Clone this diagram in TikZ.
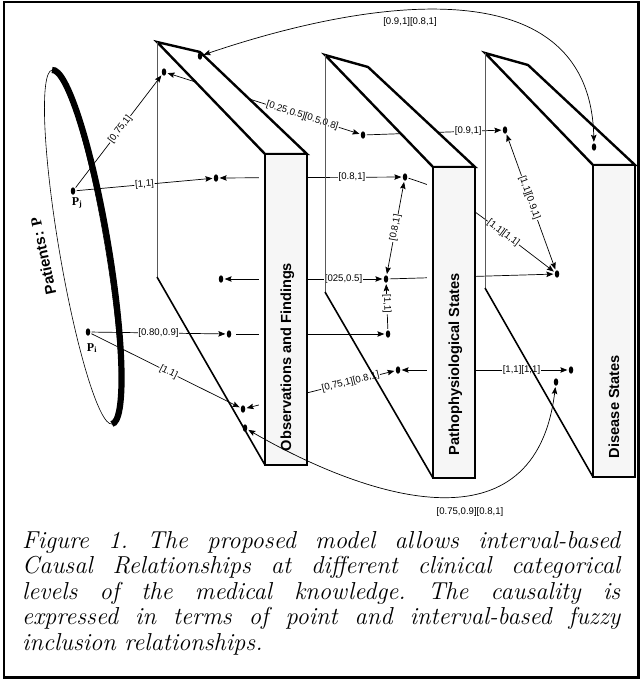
\documentclass[tikz,border=0pt]{standalone}
\usepackage{fontspec}
\newfontfamily\afont{Liberation Sans}
\newfontfamily\sfontr{Liberation Serif}
\usetikzlibrary{arrows.meta,shapes.geometric}
\pgfdeclarelayer{back}
\pgfdeclarelayer{faces}
\pgfsetlayers{back,faces,main}
\definecolor{boxgray}{RGB}{246,246,246}
\begin{document}
\begin{tikzpicture}[x=1pt,y=-1pt,
  >={Stealth[length=7pt,width=5.5pt,inset=1.2pt]},
  conn/.style={line width=0.7pt, shorten >=1.2pt, shorten <=1.2pt},
  lab/.style={font=\afont\fontsize{9.6}{10.5}\selectfont, fill=white, inner sep=0.8pt},
  dot/.style={ellipse, fill=black, inner sep=0pt, minimum width=4.5pt, minimum height=7.5pt},
  thickedge/.style={line width=2.4pt, line join=miter},
  backline/.style={line width=0.9pt, draw=black!65},
  backdiag/.style={line width=1.6pt},
  boxtext/.style={font=\afont\bfseries\fontsize{14.6}{16}\selectfont, rotate=90, anchor=base, inner sep=0pt},
  capline/.style={font=\itshape\fontsize{24.5}{25.5}\selectfont\frenchspacing, inner sep=0pt, anchor=base west}
  ]
\useasboundingbox (0,0) rectangle (642,680);
\draw[line width=2.2pt] (4,2) rectangle (638.5,677.5);

% patients ellipse
\begin{scope}[shift={(82,247)}, rotate=9.6]
  \draw[line width=0.6pt] (0,0) ellipse [x radius=23, y radius=179.5];
  \draw[line width=6.2pt] (0,-179.5) arc[start angle=-90, end angle=90, x radius=26.2, y radius=179.5];
\end{scope}
\node[rotate=102, inner sep=0pt] (pat) at (43,256) {\afont\bfseries\fontsize{15}{16}\selectfont Patients: {\sfontr P}};

% dots
\node[dot] (pj) at (73,191) {};
\node[dot] (pi) at (88,332) {};
\node[inner sep=0pt] (pjl) at (77,203) {\sfontr\bfseries\fontsize{12}{13}\selectfont P\textsubscript{j}};
\node[inner sep=0pt] (pil) at (92,348) {\sfontr\bfseries\fontsize{12}{13}\selectfont P\textsubscript{i}};
\node[dot] (d1) at (200,56) {};
\node[dot] (d2) at (164,72) {};
\node[dot] (d3) at (216,178) {};
\node[dot] (d4) at (221,279) {};
\node[dot] (d5) at (229,334) {};
\node[dot] (d6) at (243,409) {};
\node[dot] (d7) at (245,428) {};
\node[dot] (e1) at (363,135) {};
\node[dot] (e2) at (405,177) {};
\node[dot] (e3) at (386,279) {};
\node[dot] (e4) at (388,334) {};
\node[dot] (e5) at (398,370) {};
\node[dot] (f1) at (505,130) {};
\node[dot] (f2) at (594,147) {};
\node[dot] (g2) at (557,274) {};
\node[dot] (g3) at (571,370) {};
\node[dot] (g4) at (556,382) {};

% connectors hidden behind the slabs
\begin{pgfonlayer}{back}
\draw[conn,<->] (d2) -- node[lab,sloped,pos=0.7]{[0.25,0.5][0.5,0.8]} (e1);
\draw[conn,->] (e1) -- node[lab,pos=0.75]{[0.9,1]} (f1);
\draw[conn,<->] (d3) -- node[lab,pos=0.725]{[0.8,1]} (e2);
\draw[conn,<->] (d4) -- node[lab,pos=0.75]{[025,0.5]} (e3);
\draw[conn,->,shorten <=5pt] (d5) -- (e4);
\draw[conn,<->] (d6) -- node[lab,sloped,pos=0.7]{[0,75,1][0.8,1]} (e5);
\draw[conn,->] (e2) .. controls (450,192) .. node[lab,sloped,pos=0.8]{[1,1][1,1]} (g2);
\draw[conn,->] (e3) -- (g2);
\draw[conn,<->] (e5) -- node[lab,pos=0.72]{[1,1][1,1]} (g3);
\end{pgfonlayer}

% slabs
\begin{pgfonlayer}{faces}
\fill[white] (259,154) rectangle (265,465);
\fill[white] (427,167) rectangle (433,478);
\filldraw[fill=white, thickedge] (157,42) -- (200,52) -- (307,154) -- (265,154) -- cycle;
\filldraw[fill=boxgray, thickedge] (265,154) rectangle (307,465);
\filldraw[fill=white, thickedge] (325,55) -- (368,67) -- (475,167) -- (433,167) -- cycle;
\filldraw[fill=boxgray, thickedge] (433,167) rectangle (475,478);
\filldraw[fill=white, thickedge] (485,53) -- (528,65) -- (635,165) -- (593,165) -- cycle;
\filldraw[fill=boxgray, thickedge] (593,165) rectangle (635,477);
\node[boxtext] (obs) at (291,357) {Observations and Findings};
\node[boxtext] (pat2) at (459,364.5) {Pathophysiological States};
\node[boxtext] (dis) at (619,406.5) {Disease States};
\draw[backline] (157,42) -- (157,277);
\draw[backdiag] (157,277) -- (265,465);
\draw[backline] (325,55) -- (325,292);
\draw[backdiag] (325,292) -- (433,478);
\draw[backline] (485,53) -- (485,288);
\draw[backdiag] (485,288) -- (593,477);
\end{pgfonlayer}

% front connectors
\draw[conn,->] (pj) -- node[lab,sloped,pos=0.52]{[0,75,1]} (d2);
\draw[conn,->] (pj) -- node[lab,sloped,pos=0.5]{[1,1]} (d3);
\draw[conn,->] (pi) -- node[lab,pos=0.5]{[0.80,0.9]} (d5);
\draw[conn,->] (pi) -- node[lab,sloped,pos=0.52]{[1.1]} (d6);
\draw[conn,<->] (e3) -- node[lab,sloped,pos=0.5]{[0.8,1]} (e2);
\draw[conn,->] (e4) -- node[lab,sloped,pos=0.55]{[1,1]} (e3);
\draw[conn,<->] (f1) -- node[lab,sloped,pos=0.47]{[1,1][0.9,1]} (g2);
\draw[conn,<->] (f2) .. controls (590,-30) and (380,-5) .. (d1);
\node[lab] (toplab) at (410,22) {[0.9,1][0.8,1]};
\draw[conn,<->] (d7) .. controls (370,500) and (535,552) .. (g4);
\node[lab] (botlab) at (470,512) {[0.75,0.9][0.8,1]};

% caption
\node[capline] (cap1) at (22,548) {\makebox[598pt][s]{Figure 1. The proposed model allows interval-based}};
\node[capline] (cap2) at (22,573.5) {\makebox[598pt][s]{Causal Relationships at different clinical categorical}};
\node[capline] (cap3) at (22,599) {\makebox[598pt][s]{levels of the medical knowledge. The causality is}};
\node[capline] (cap4) at (22,624.5) {\makebox[598pt][s]{expressed in terms of point and interval-based fuzzy}};
\node[capline] (cap5) at (22,650) {inclusion relationships.};
\end{tikzpicture}
\end{document}
